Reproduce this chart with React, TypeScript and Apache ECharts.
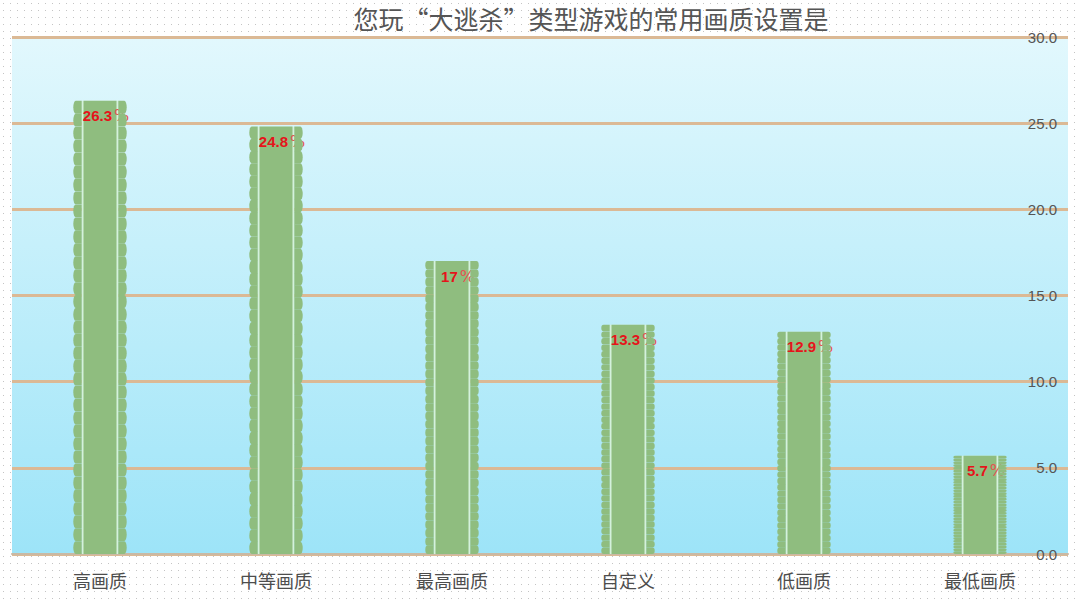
import React, { useEffect, useRef } from 'react';
import * as echarts from 'echarts';

const categories = ['高画质', '中等画质', '最高画质', '自定义', '低画质', '最低画质'];
const shares = [26.3, 24.8, 17, 13.3, 12.9, 5.7];
const yTicks = { min: 0, max: 30, interval: 5 };
const titleText = '您玩“大逃杀”类型游戏的常用画质设置是';

// scalloped edge pieces, stretched by symbolSize
const leftEdge = 'path://M84,0 L24,0 A24,50 0 0,0 24,100 L84,100 Z';
const rightEdge = 'path://M0,0 L60,0 A24,50 0 0,1 60,100 L0,100 Z';
const scallops = 35;

export default function App() {
  const chartRef = useRef<HTMLDivElement>(null);

  useEffect(() => {
    if (!chartRef.current) return;
    const chart = echarts.init(chartRef.current, null, { renderer: 'svg' });

    // each scallop is 1/35 of its bar's pixel length
    const edgeData = (lenPx: (v: number) => number) =>
      shares.map((v) => ({
        value: v,
        symbolBoundingData: v,
        symbolSize: [8.4, lenPx(v) / scallops]
      }));

    const edge = (symbol: string, dx: number, lenPx: (v: number) => number) => ({
      type: 'pictorialBar' as const,
      data: edgeData(lenPx),
      symbol,
      symbolRepeat: scallops,
      symbolMargin: 0,
      symbolOffset: [dx, 0],
      itemStyle: { color: '#8fbd7f' },
      z: 4
    });

    const option: echarts.EChartsOption = {
      animation: false,
      backgroundColor: 'transparent',
      graphic: [
        {
          type: 'text',
          x: 591,
          y: 18,
          style: {
            text: titleText,
            fontSize: 25,
            fontFamily: 'Noto Sans CJK SC',
            fill: '#555',
            textAlign: 'center',
            textVerticalAlign: 'middle'
          }
        }
      ],
      grid: {
        left: 12,
        right: 12,
        top: 37,
        bottom: 46,
        show: true,
        borderWidth: 0,
        backgroundColor: new echarts.graphic.LinearGradient(0, 0, 0, 1, [
          { offset: 0, color: '#e2f8fd' },
          { offset: 1, color: '#9de4f8' }
        ])
      },
      xAxis: {
        type: 'category',
        data: categories,
        axisTick: { show: false },
        axisLine: { lineStyle: { color: '#c9b9a4', width: 2 } },
        axisLabel: {
          color: '#4d4d4d',
          fontSize: 18,
          fontFamily: 'Noto Sans CJK SC',
          margin: 17
        }
      },
      yAxis: {
        type: 'value',
        position: 'right',
        min: yTicks.min,
        max: yTicks.max,
        interval: yTicks.interval,
        axisLine: { show: false },
        axisTick: { show: false },
        splitLine: { lineStyle: { color: '#dbb995', width: 3 } },
        axisLabel: {
          inside: true,
          margin: 11,
          color: '#555',
          fontSize: 15,
          fontFamily: 'Arial, Liberation Sans, sans-serif',
          formatter: (v: number) => v.toFixed(1)
        }
      },
      series: [
        {
          type: 'pictorialBar',
          data: shares,
          symbol: 'rect',
          symbolSize: [37, '100%'],
          itemStyle: { color: '#d4f1dc' },
          z: 2
        },
        {
          type: 'bar',
          data: shares,
          barWidth: 33,
          itemStyle: { color: '#8fbd7f' },
          z: 3,
          label: {
            show: true,
            position: 'insideTop',
            distance: 7,
            offset: [6, 0],
            formatter: (p: any) => `{v|${p.value}}{p|%}`,
            rich: {
              v: {
                color: '#e5141b',
                fontWeight: 'bold',
                fontSize: 15,
                fontFamily: 'Arial, Liberation Sans, sans-serif'
              },
              p: {
                color: '#e65252',
                fontSize: 16,
                padding: [0, 0, 0, 2],
                fontFamily: 'DejaVu Sans, sans-serif'
              }
            }
          }
        }
      ]
    };

    chart.setOption(option);

    // measure bar lengths through the value axis, then add the scalloped edges
    const zero = chart.convertToPixel({ yAxisIndex: 0 }, 0) as number;
    const lenPx = (v: number) => Math.abs(zero - (chart.convertToPixel({ yAxisIndex: 0 }, v) as number));
    chart.setOption({
      series: [
        option.series![0],
        option.series![1],
        edge(leftEdge, -22.5, lenPx),
        edge(rightEdge, 22.5, lenPx)
      ]
    });

    return () => chart.dispose();
  }, []);

  return (
    <div
      style={{
        position: 'absolute',
        left: 0,
        top: 0,
        width: 1080,
        height: 600,
        backgroundColor: '#fff',
        backgroundImage: 'radial-gradient(#c4c4c4 0.8px, transparent 1px)',
        backgroundSize: '7px 7px'
      }}
    >
      <div ref={chartRef} style={{ width: 1080, height: 600 }} />
    </div>
  );
}
